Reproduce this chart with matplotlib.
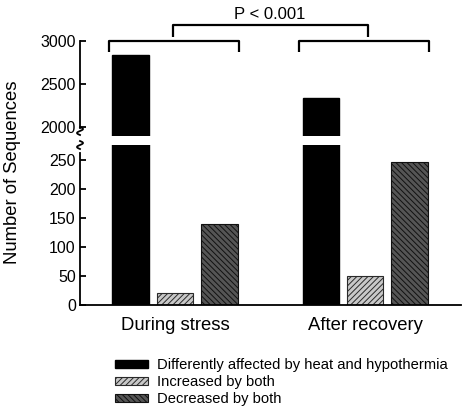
import matplotlib
matplotlib.use("Agg")
import matplotlib.pyplot as plt
import numpy as np

plt.rcParams["font.family"] = ["Liberation Sans", "DejaVu Sans"]
plt.rcParams["hatch.linewidth"] = 0.7

groups = ["During stress", "After recovery"]
series = ["Differently affected by heat and hypothermia",
          "Increased by both",
          "Decreased by both"]
differently = [2840, 2340]
increased = [20, 50]
decreased = [139, 247]

W, H = 462, 407
fig = plt.figure(figsize=(W / 100, H / 100), dpi=100)


def fx(px):
    return px / W


def fy(py):
    return (H - py) / H


left, right = fx(80), fx(461)
ax_lo = fig.add_axes([left, fy(305), right - left, fy(145) - fy(305)])
ax_hi = fig.add_axes([left, fy(136), right - left, fy(41) - fy(136)])

x = np.arange(len(groups))
off, bw = 0.234, 0.19
styles = [dict(color="black", edgecolor="black"),
          dict(facecolor="#c8c8c8", edgecolor="#2a2a2a", hatch="//////", linewidth=0.8),
          dict(facecolor="#555555", edgecolor="#111111", hatch="\\\\\\\\\\\\", linewidth=0.8)]
values = [differently, increased, decreased]

handles = []
for ax in (ax_lo, ax_hi):
    for i, (vals, st) in enumerate(zip(values, styles)):
        b = ax.bar(x + (i - 1) * off, vals, bw, label=series[i], **st)
        if ax is ax_lo:
            handles.append(b)
    ax.set_xlim(-0.5, 1.505)
    for s in ("top", "right"):
        ax.spines[s].set_visible(False)
    ax.spines["left"].set_linewidth(1.3)
    ax.tick_params(axis="y", direction="in", length=4, width=1.3, labelsize=11.5, pad=3)

ax_lo.set_ylim(0, 276)
ax_lo.set_yticks([0, 50, 100, 150, 200, 250])
ax_lo.spines["left"].set_bounds(0, 262)
ax_lo.spines["bottom"].set_linewidth(1.3)
ax_lo.set_xticks(x)
ax_lo.set_xticklabels(groups, fontsize=13.3)
ax_lo.tick_params(axis="x", length=0, pad=9)

ax_hi.set_ylim(1895, 3000)
ax_hi.set_yticks([2000, 2500, 3000])
ax_hi.spines["left"].set_bounds(1990, 3000)
ax_hi.spines["bottom"].set_visible(False)
ax_hi.set_xticks([])

# break marks on the y axis
t = np.linspace(0, 1, 30)
for y0 in (127, 141):
    xs = 80 + 3.0 * np.sin(2 * np.pi * t)
    ys = y0 + 8 * t
    fig.add_artist(plt.Line2D(fx(xs), fy(ys), color="black", lw=1.3))

# significance brackets
br = dict(color="black", lw=1.6, clip_on=False, solid_capstyle="butt")
for c in x:
    ax_hi.plot([c - 0.347, c - 0.347, c + 0.335, c + 0.335],
               [2870, 3000, 3000, 2870], **br)
ax_hi.plot([-0.01, -0.01, 1.016, 1.016], [3045, 3186, 3186, 3045], **br)
ax_hi.text(0.5, 3310, "P < 0.001", ha="center", va="center", fontsize=12)

fig.text(fx(13), fy(172), "Number of Sequences", rotation=90,
         ha="center", va="center", fontsize=13.3)

fig.legend(handles, series, loc="upper left", bbox_to_anchor=(fx(115), fy(358)),
           frameon=False, fontsize=10.6, handlelength=2.25, handleheight=0.45,
           handletextpad=0.6, labelspacing=0.2, borderpad=0, borderaxespad=0)

fig.savefig("out.png", dpi=100)
